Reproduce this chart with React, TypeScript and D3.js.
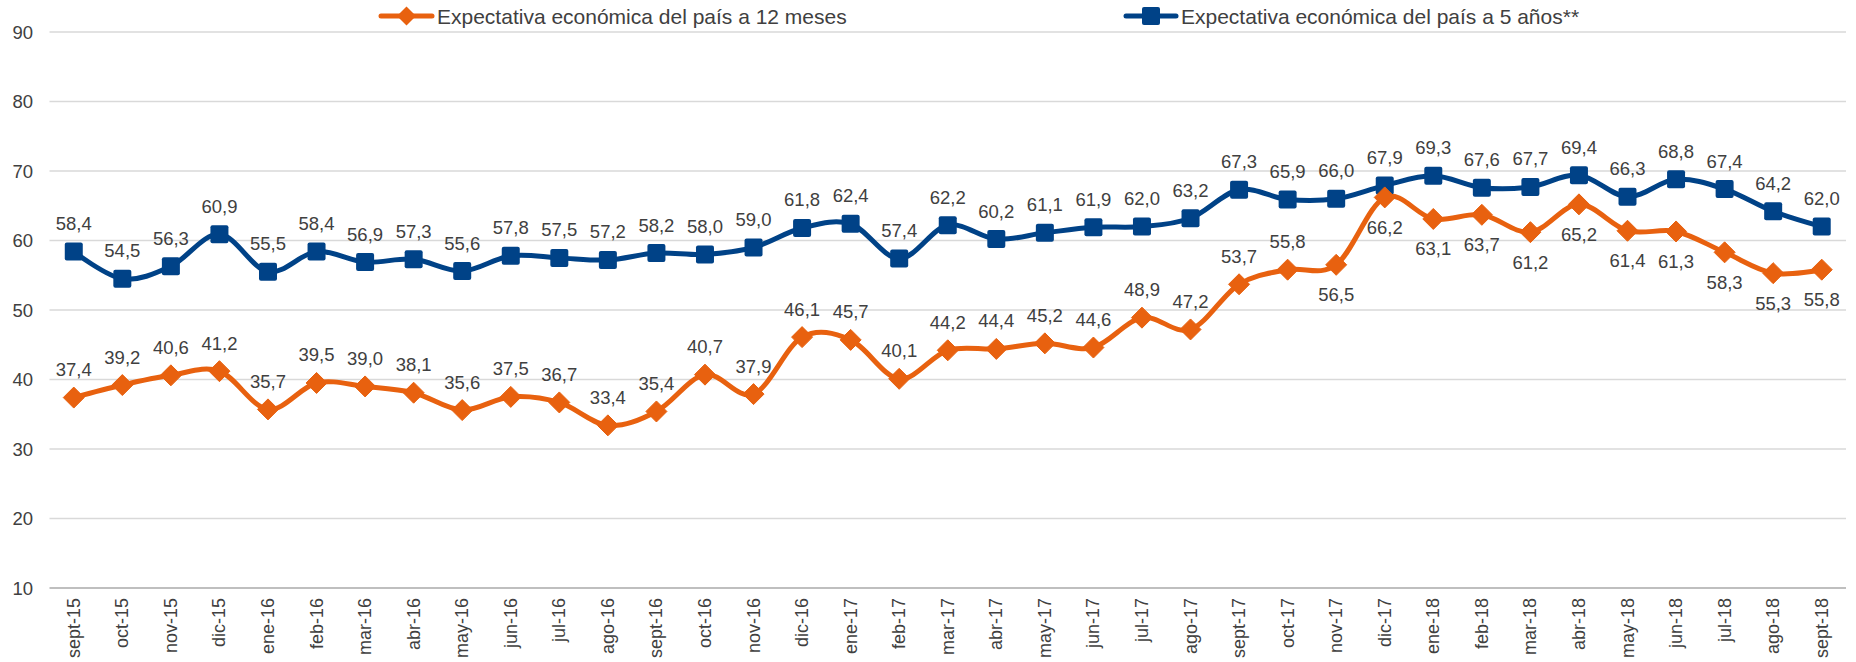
import React from 'react'
import * as d3 from 'd3'

const months = [
  'sept-15', 'oct-15', 'nov-15', 'dic-15', 'ene-16', 'feb-16', 'mar-16', 'abr-16', 'may-16',
  'jun-16', 'jul-16', 'ago-16', 'sept-16', 'oct-16', 'nov-16', 'dic-16', 'ene-17', 'feb-17',
  'mar-17', 'abr-17', 'may-17', 'jun-17', 'jul-17', 'ago-17', 'sept-17', 'oct-17', 'nov-17',
  'dic-17', 'ene-18', 'feb-18', 'mar-18', 'abr-18', 'may-18', 'jun-18', 'jul-18', 'ago-18', 'sept-18',
]

const expect12 = [
  37.4, 39.2, 40.6, 41.2, 35.7, 39.5, 39.0, 38.1, 35.6, 37.5, 36.7, 33.4, 35.4, 40.7, 37.9,
  46.1, 45.7, 40.1, 44.2, 44.4, 45.2, 44.6, 48.9, 47.2, 53.7, 55.8, 56.5, 66.2, 63.1, 63.7,
  61.2, 65.2, 61.4, 61.3, 58.3, 55.3, 55.8,
]

const expect5 = [
  58.4, 54.5, 56.3, 60.9, 55.5, 58.4, 56.9, 57.3, 55.6, 57.8, 57.5, 57.2, 58.2, 58.0, 59.0,
  61.8, 62.4, 57.4, 62.2, 60.2, 61.1, 61.9, 62.0, 63.2, 67.3, 65.9, 66.0, 67.9, 69.3, 67.6,
  67.7, 69.4, 66.3, 68.8, 67.4, 64.2, 62.0,
]

// from nov-17 on the orange labels sit below the points
const belowFrom = 'nov-17'

const yTicks = [10, 20, 30, 40, 50, 60, 70, 80, 90]

const seriesNames = ['Expectativa económica del país a 12 meses', 'Expectativa económica del país a 5 años**']

const ORANGE = '#E8610F'
const BLUE = '#004287'
const TEXT = '#404040'
const FONT = '"Liberation Sans", Arial, sans-serif'

const fmt = (v: number) => v.toFixed(1).replace('.', ',')

const App = () => {
  const width = 1856
  const height = 662
  const left = 49.5
  const right = 1846

  const x = d3.scaleBand().domain(months).range([left, right]).padding(0)
  const cx = (m: string) => (x(m) as number) + x.bandwidth() / 2
  const y = d3.scaleLinear().domain([10, 90]).range([588, 32])

  const line = d3
    .line<number>()
    .x((_, i) => cx(months[i]))
    .y(d => y(d))
    .curve(d3.curveCatmullRom.alpha(0))

  const belowIdx = months.indexOf(belowFrom)

  const diamond = (px: number, py: number, r: number) =>
    `M${px},${py - r}L${px + r},${py}L${px},${py + r}L${px - r},${py}Z`

  return (
    <svg
      width={width}
      height={height}
      style={{ position: 'absolute', left: 0, top: 0, display: 'block', background: '#fff' }}
      fontFamily={FONT}
    >
      {/* grid */}
      {yTicks.map(t => (
        <g key={`g${t}`}>
          <line
            x1={left}
            x2={right}
            y1={y(t)}
            y2={y(t)}
            stroke={t === 10 ? '#BFBFBF' : '#D9D9D9'}
            strokeWidth={t === 10 ? 2 : 1.5}
          />
          <text x={33} y={y(t)} textAnchor="end" dominantBaseline="central" fontSize={18.5} fill={TEXT}>
            {t}
          </text>
        </g>
      ))}

      {/* x labels */}
      {months.map(m => (
        <text
          key={`x${m}`}
          transform={`translate(${cx(m)},598) rotate(-90)`}
          textAnchor="end"
          dominantBaseline="central"
          fontSize={18}
          fill={TEXT}
        >
          {m}
        </text>
      ))}

      {/* lines */}
      <path d={line(expect5) || ''} fill="none" stroke={BLUE} strokeWidth={5} strokeLinejoin="round" />
      <path d={line(expect12) || ''} fill="none" stroke={ORANGE} strokeWidth={5} strokeLinejoin="round" />

      {/* markers */}
      {expect5.map((v, i) => (
        <rect key={`b${i}`} x={cx(months[i]) - 9} y={y(v) - 9} width={18} height={18} rx={2} fill={BLUE} />
      ))}
      {expect12.map((v, i) => (
        <path key={`o${i}`} d={diamond(cx(months[i]), y(v), 10.5)} fill={ORANGE} strokeLinejoin="round" stroke={ORANGE} strokeWidth={1} />
      ))}

      {/* data labels */}
      {expect5.map((v, i) => (
        <text
          key={`bl${i}`}
          x={cx(months[i])}
          y={y(v) - 28}
          textAnchor="middle"
          dominantBaseline="central"
          fontSize={18.5}
          fill={TEXT}
        >
          {fmt(v)}
        </text>
      ))}
      {expect12.map((v, i) => (
        <text
          key={`ol${i}`}
          x={cx(months[i])}
          y={i >= belowIdx ? y(v) + 30 : y(v) - 28}
          textAnchor="middle"
          dominantBaseline="central"
          fontSize={18.5}
          fill={TEXT}
        >
          {fmt(v)}
        </text>
      ))}

      {/* legend */}
      <g>
        <line x1={381} x2={432} y1={16} y2={16} stroke={ORANGE} strokeWidth={5} strokeLinecap="round" />
        <path d={diamond(406.5, 16, 9.5)} fill={ORANGE} />
        <text x={437} y={16} dominantBaseline="central" fontSize={21} fill={TEXT}>
          {seriesNames[0]}
        </text>
        <line x1={1126} x2={1176} y1={16} y2={16} stroke={BLUE} strokeWidth={5} strokeLinecap="round" />
        <rect x={1142} y={7} width={18} height={18} rx={2} fill={BLUE} />
        <text x={1181} y={16} dominantBaseline="central" fontSize={21} fill={TEXT}>
          {seriesNames[1]}
        </text>
      </g>
    </svg>
  )
}

export default App
